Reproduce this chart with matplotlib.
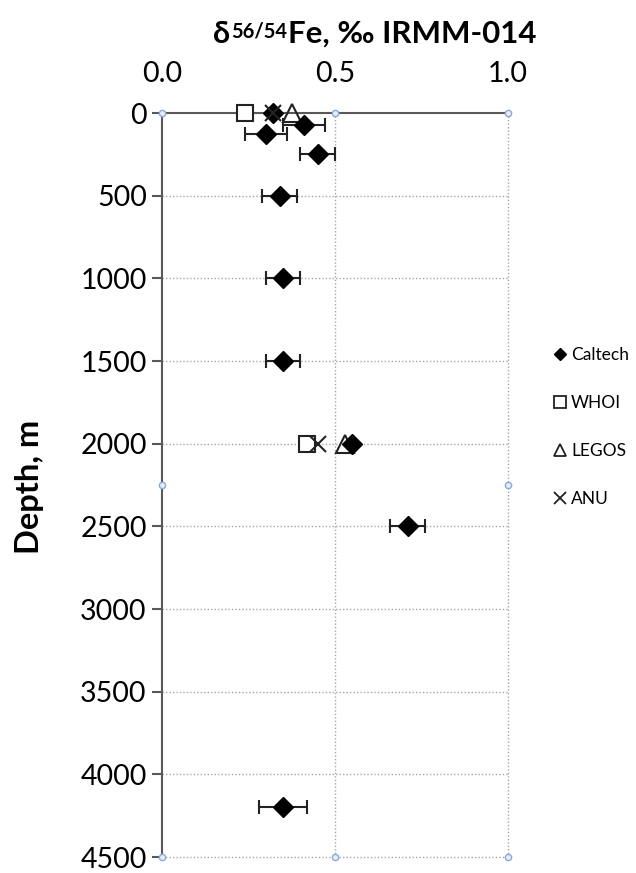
import numpy as np
import matplotlib
matplotlib.use("Agg")
import matplotlib.pyplot as plt
from matplotlib.lines import Line2D

plt.rcParams['font.family'] = ['Lato', 'DejaVu Sans']

# ---- data ----
caltech_depth = [0, 75, 125, 250, 500, 1000, 1500, 2000, 2500, 4200]
caltech_value = [0.32, 0.41, 0.30, 0.45, 0.34, 0.35, 0.35, 0.55, 0.71, 0.35]
caltech_err = [np.nan, 0.06, 0.06, 0.05, 0.05, 0.05, 0.05, np.nan, 0.05, 0.07]

whoi_depth = [0, 2000]
whoi_value = [0.24, 0.42]

legos_depth = [0, 2000]
legos_value = [0.375, 0.53]

anu_depth = [0, 2000]
anu_value = [0.32, 0.45]

x_ticks = [0.0, 0.5, 1.0]
x_tick_labels = ["0.0", "0.5", "1.0"]
y_ticks = list(range(0, 4501, 500))

# ---- figure ----
W, H = 636, 873
fig = plt.figure(figsize=(W / 100, H / 100), dpi=100)
ax = fig.add_axes([162 / W, 1 - 857 / H, (508 - 162) / W, (857 - 113) / H])

ax.set_xlim(0, 1.0)
ax.set_ylim(4500, 0)

axis_col = '#595959'
grid_col = '#a6a6a6'

# grid
for yv in y_ticks[1:]:
    ax.axhline(yv, color=grid_col, lw=1.0, ls=(0, (1, 1.5)), zorder=0.5, clip_on=False)
for xv in x_ticks[1:]:
    ax.axvline(xv, color=grid_col, lw=1.0, ls=(0, (1, 1.5)), zorder=0.5, clip_on=False)

for s in ['right', 'bottom']:
    ax.spines[s].set_visible(False)
ax.spines['left'].set_color(axis_col)
ax.spines['top'].set_color(axis_col)
ax.spines['left'].set_linewidth(1.5)
ax.spines['top'].set_linewidth(1.5)

ax.xaxis.set_ticks_position('top')
ax.set_xticks(x_ticks)
ax.set_xticklabels(x_tick_labels)
ax.tick_params(axis='x', length=0, pad=18.5, labelsize=20.5)
ax.set_yticks(y_ticks)
ax.tick_params(axis='y', length=7, width=1.5, color=axis_col, pad=4, labelsize=20.5, direction='out')

# error bars (Caltech)
ce = np.array(caltech_err, dtype=float)
cv = np.array(caltech_value)
cd = np.array(caltech_depth)
m = ~np.isnan(ce)
ax.errorbar(cv[m], cd[m], xerr=ce[m], fmt='none', ecolor='#222222', elinewidth=1.5,
            capsize=5, capthick=1.5, zorder=2, clip_on=False)

ax.plot(whoi_value, whoi_depth, ls='none', marker='s', ms=12, mfc='white', mec='#222222',
        mew=1.5, label='WHOI', zorder=3, clip_on=False)
ax.plot(legos_value, legos_depth, ls='none', marker='^', ms=13, mfc='none', mec='#222222',
        mew=1.5, label='LEGOS', zorder=3, clip_on=False)
ax.plot(caltech_value, caltech_depth, ls='none', marker='D', ms=10, mfc='black', mec='black',
        label='Caltech', zorder=4, clip_on=False)
ax.plot(anu_value, anu_depth, ls='none', marker='x', ms=11, mec='#222222', mew=1.5,
        label='ANU', zorder=5, clip_on=False)

# plot-area handles
hx = [0, 0.5, 1, 0, 0.5, 1, 0, 1]
hy = [1, 1, 1, 0, 0, 0, 0.5, 0.5]
ax.plot(hx, hy, ls='none', marker='o', ms=4.5, mfc='#e8eef8', mec='#8aa8d8', mew=1,
        transform=ax.transAxes, clip_on=False, zorder=6)

# y label
fig.text(30 / W, 1 - 487 / H, 'Depth, m', rotation=90, ha='center', va='center',
         fontsize=23.5, fontweight='bold')

# title with superscript
t1 = fig.text(213 / W, 1 - 43 / H, 'δ', fontsize=22, fontweight='bold', ha='left', va='baseline')
t2 = ax.annotate('56/54', xy=(1, 0), xycoords=t1, xytext=(0.5, 7.5), textcoords='offset points',
                 fontsize=14.5, fontweight='bold', ha='left', va='baseline')
t3 = ax.annotate('Fe, ‰ IRMM-014', xy=(1, 0), xycoords=(t2, t1), xytext=(0.5, 0),
                 textcoords='offset points', fontsize=22.5, fontweight='bold',
                 ha='left', va='bottom')

# legend
handles = [
    Line2D([], [], ls='none', marker='D', ms=6.5, mfc='black', mec='black'),
    Line2D([], [], ls='none', marker='s', ms=9, mfc='white', mec='#222222', mew=1.3),
    Line2D([], [], ls='none', marker='^', ms=9, mfc='none', mec='#222222', mew=1.3),
    Line2D([], [], ls='none', marker='x', ms=8, mec='#222222', mew=1.3),
]
labels = ['Caltech', 'WHOI', 'LEGOS', 'ANU']
fig.legend(handles, labels, loc='upper left', bbox_to_anchor=(553 / W, 1 - 347 / H),
           frameon=False, fontsize=12.5, labelspacing=1.85, handlelength=0.8,
           handletextpad=0.25, borderaxespad=0, borderpad=0)

fig.savefig('out.png', dpi=100)
